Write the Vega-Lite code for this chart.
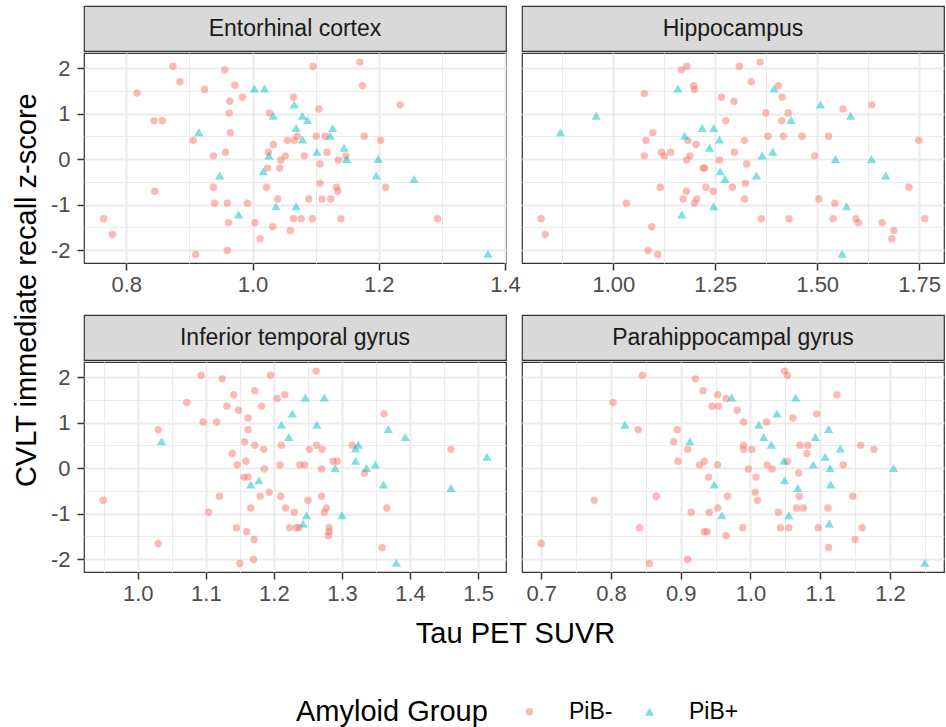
{
  "$schema": "https://vega.github.io/schema/vega-lite/v6.json",
  "background": "white",
  "padding": {"left": 12, "top": 5, "right": 0, "bottom": 0},
  "title": {"text": "CVLT immediate recall z-score", "orient": "left", "anchor": "middle", "fontSize": 29, "fontWeight": "normal", "color": "black", "font": "Liberation Sans", "offset": 8, "dx": 76},
  "config": {
    "font": "Liberation Sans",
    "view": {"stroke": null},
    "axis": {"labelFont": "Liberation Sans", "labelFontSize": 22, "labelColor": "#4D4D4D", "tickColor": "#333333", "tickSize": 7, "tickWidth": 1.5, "domain": false, "gridColor": "#EBEBEB", "gridWidth": 2, "labelFlush": false, "labelOverlap": false, "titleFont": "Liberation Sans", "titleFontSize": 29, "titleFontWeight": "normal", "titleColor": "black"},
    "axisX": {"labelPadding": 4},
    "axisY": {"labelPadding": 7},
    "legend": {"orient": "none", "legendX": 212, "legendY": 694, "direction": "horizontal", "titleOrient": "left", "titleLimit": 600, "titleFontSize": 29, "titleFontWeight": "normal", "titleColor": "black", "titleFont": "Liberation Sans", "labelFont": "Liberation Sans", "labelFontSize": 23, "labelColor": "black", "symbolSize": 55, "symbolOpacity": 0.5, "symbolStrokeWidth": 0, "labelOffset": 28, "columnPadding": 25, "titlePadding": 30}
  },
  "datasets": {
    "pts": [
      {"r":"Entorhinal cortex","x":0.874,"y":2.04,"g":"PiB-"},{"r":"Entorhinal cortex","x":0.885,"y":1.70,"g":"PiB-"},{"r":"Entorhinal cortex","x":0.817,"y":1.45,"g":"PiB-"},{"r":"Entorhinal cortex","x":0.956,"y":1.96,"g":"PiB-"},{"r":"Entorhinal cortex","x":0.924,"y":1.53,"g":"PiB-"},{"r":"Entorhinal cortex","x":0.972,"y":1.62,"g":"PiB-"},{"r":"Entorhinal cortex","x":0.964,"y":1.27,"g":"PiB-"},{"r":"Entorhinal cortex","x":0.984,"y":1.36,"g":"PiB-"},{"r":"Entorhinal cortex","x":0.963,"y":1.01,"g":"PiB-"},{"r":"Entorhinal cortex","x":0.965,"y":0.58,"g":"PiB-"},
      {"r":"Entorhinal cortex","x":0.844,"y":0.84,"g":"PiB-"},{"r":"Entorhinal cortex","x":0.857,"y":0.84,"g":"PiB-"},{"r":"Entorhinal cortex","x":0.906,"y":0.41,"g":"PiB-"},{"r":"Entorhinal cortex","x":0.938,"y":0.07,"g":"PiB-"},{"r":"Entorhinal cortex","x":0.957,"y":0.15,"g":"PiB-"},{"r":"Entorhinal cortex","x":0.938,"y":-0.62,"g":"PiB-"},{"r":"Entorhinal cortex","x":0.845,"y":-0.71,"g":"PiB-"},{"r":"Entorhinal cortex","x":0.940,"y":-0.97,"g":"PiB-"},{"r":"Entorhinal cortex","x":0.960,"y":-0.97,"g":"PiB-"},{"r":"Entorhinal cortex","x":0.992,"y":-0.97,"g":"PiB-"},
      {"r":"Entorhinal cortex","x":0.764,"y":-1.31,"g":"PiB-"},{"r":"Entorhinal cortex","x":0.778,"y":-1.66,"g":"PiB-"},{"r":"Entorhinal cortex","x":0.910,"y":-2.10,"g":"PiB-"},{"r":"Entorhinal cortex","x":0.960,"y":-2.01,"g":"PiB-"},{"r":"Entorhinal cortex","x":0.962,"y":-1.40,"g":"PiB-"},{"r":"Entorhinal cortex","x":1.004,"y":-1.40,"g":"PiB-"},{"r":"Entorhinal cortex","x":1.012,"y":-1.75,"g":"PiB-"},{"r":"Entorhinal cortex","x":1.032,"y":-1.49,"g":"PiB-"},{"r":"Entorhinal cortex","x":1.060,"y":-1.57,"g":"PiB-"},{"r":"Entorhinal cortex","x":1.065,"y":-1.31,"g":"PiB-"},
      {"r":"Entorhinal cortex","x":1.077,"y":-1.31,"g":"PiB-"},{"r":"Entorhinal cortex","x":1.095,"y":-1.31,"g":"PiB-"},{"r":"Entorhinal cortex","x":1.140,"y":-1.31,"g":"PiB-"},{"r":"Entorhinal cortex","x":1.293,"y":-1.31,"g":"PiB-"},{"r":"Entorhinal cortex","x":1.040,"y":-0.88,"g":"PiB-"},{"r":"Entorhinal cortex","x":1.089,"y":-0.88,"g":"PiB-"},{"r":"Entorhinal cortex","x":1.110,"y":-0.88,"g":"PiB-"},{"r":"Entorhinal cortex","x":1.124,"y":-0.88,"g":"PiB-"},{"r":"Entorhinal cortex","x":1.022,"y":-0.62,"g":"PiB-"},{"r":"Entorhinal cortex","x":1.107,"y":-0.53,"g":"PiB-"},
      {"r":"Entorhinal cortex","x":1.133,"y":-0.62,"g":"PiB-"},{"r":"Entorhinal cortex","x":1.135,"y":-0.71,"g":"PiB-"},{"r":"Entorhinal cortex","x":1.211,"y":-0.62,"g":"PiB-"},{"r":"Entorhinal cortex","x":1.043,"y":-0.20,"g":"PiB-"},{"r":"Entorhinal cortex","x":1.024,"y":-0.20,"g":"PiB-"},{"r":"Entorhinal cortex","x":1.045,"y":-0.02,"g":"PiB-"},{"r":"Entorhinal cortex","x":1.052,"y":0.07,"g":"PiB-"},{"r":"Entorhinal cortex","x":1.082,"y":0.07,"g":"PiB-"},{"r":"Entorhinal cortex","x":1.107,"y":-0.11,"g":"PiB-"},{"r":"Entorhinal cortex","x":1.136,"y":-0.02,"g":"PiB-"},
      {"r":"Entorhinal cortex","x":1.148,"y":0.07,"g":"PiB-"},{"r":"Entorhinal cortex","x":1.118,"y":0.15,"g":"PiB-"},{"r":"Entorhinal cortex","x":1.025,"y":0.15,"g":"PiB-"},{"r":"Entorhinal cortex","x":1.033,"y":0.32,"g":"PiB-"},{"r":"Entorhinal cortex","x":1.055,"y":0.41,"g":"PiB-"},{"r":"Entorhinal cortex","x":1.066,"y":0.41,"g":"PiB-"},{"r":"Entorhinal cortex","x":1.071,"y":0.50,"g":"PiB-"},{"r":"Entorhinal cortex","x":1.101,"y":0.50,"g":"PiB-"},{"r":"Entorhinal cortex","x":1.115,"y":0.50,"g":"PiB-"},{"r":"Entorhinal cortex","x":1.177,"y":0.50,"g":"PiB-"},
      {"r":"Entorhinal cortex","x":1.203,"y":0.41,"g":"PiB-"},{"r":"Entorhinal cortex","x":1.027,"y":1.01,"g":"PiB-"},{"r":"Entorhinal cortex","x":1.105,"y":1.10,"g":"PiB-"},{"r":"Entorhinal cortex","x":1.065,"y":1.36,"g":"PiB-"},{"r":"Entorhinal cortex","x":1.096,"y":2.04,"g":"PiB-"},{"r":"Entorhinal cortex","x":1.170,"y":2.13,"g":"PiB-"},{"r":"Entorhinal cortex","x":1.174,"y":1.61,"g":"PiB-"},{"r":"Entorhinal cortex","x":1.234,"y":1.19,"g":"PiB-"},
      {"r":"Entorhinal cortex","x":1.003,"y":1.55,"g":"PiB+"},{"r":"Entorhinal cortex","x":1.019,"y":1.55,"g":"PiB+"},{"r":"Entorhinal cortex","x":1.066,"y":1.20,"g":"PiB+"},{"r":"Entorhinal cortex","x":1.033,"y":0.95,"g":"PiB+"},{"r":"Entorhinal cortex","x":1.079,"y":0.95,"g":"PiB+"},{"r":"Entorhinal cortex","x":1.087,"y":0.86,"g":"PiB+"},{"r":"Entorhinal cortex","x":1.069,"y":0.68,"g":"PiB+"},{"r":"Entorhinal cortex","x":1.127,"y":0.68,"g":"PiB+"},{"r":"Entorhinal cortex","x":1.123,"y":0.51,"g":"PiB+"},{"r":"Entorhinal cortex","x":1.079,"y":0.43,"g":"PiB+"},
      {"r":"Entorhinal cortex","x":0.915,"y":0.59,"g":"PiB+"},{"r":"Entorhinal cortex","x":1.102,"y":0.16,"g":"PiB+"},{"r":"Entorhinal cortex","x":1.026,"y":0.08,"g":"PiB+"},{"r":"Entorhinal cortex","x":1.145,"y":0.25,"g":"PiB+"},{"r":"Entorhinal cortex","x":1.149,"y":0.0,"g":"PiB+"},{"r":"Entorhinal cortex","x":1.199,"y":0.0,"g":"PiB+"},{"r":"Entorhinal cortex","x":1.017,"y":-0.27,"g":"PiB+"},{"r":"Entorhinal cortex","x":0.948,"y":-0.36,"g":"PiB+"},{"r":"Entorhinal cortex","x":1.196,"y":-0.36,"g":"PiB+"},{"r":"Entorhinal cortex","x":1.256,"y":-0.44,"g":"PiB+"},
      {"r":"Entorhinal cortex","x":1.037,"y":-1.04,"g":"PiB+"},{"r":"Entorhinal cortex","x":1.069,"y":-1.04,"g":"PiB+"},{"r":"Entorhinal cortex","x":0.978,"y":-1.22,"g":"PiB+"},{"r":"Entorhinal cortex","x":1.373,"y":-2.08,"g":"PiB+"},

      {"r":"Hippocampus","x":1.360,"y":2.13,"g":"PiB-"},{"r":"Hippocampus","x":1.309,"y":2.04,"g":"PiB-"},{"r":"Hippocampus","x":1.180,"y":2.04,"g":"PiB-"},{"r":"Hippocampus","x":1.167,"y":1.96,"g":"PiB-"},{"r":"Hippocampus","x":1.338,"y":1.70,"g":"PiB-"},{"r":"Hippocampus","x":1.197,"y":1.61,"g":"PiB-"},{"r":"Hippocampus","x":1.199,"y":1.53,"g":"PiB-"},{"r":"Hippocampus","x":1.405,"y":1.61,"g":"PiB-"},{"r":"Hippocampus","x":1.076,"y":1.44,"g":"PiB-"},{"r":"Hippocampus","x":1.265,"y":1.36,"g":"PiB-"},
      {"r":"Hippocampus","x":1.296,"y":1.27,"g":"PiB-"},{"r":"Hippocampus","x":1.414,"y":1.36,"g":"PiB-"},{"r":"Hippocampus","x":1.563,"y":1.10,"g":"PiB-"},{"r":"Hippocampus","x":1.634,"y":1.19,"g":"PiB-"},{"r":"Hippocampus","x":1.374,"y":1.01,"g":"PiB-"},{"r":"Hippocampus","x":1.429,"y":1.01,"g":"PiB-"},{"r":"Hippocampus","x":1.413,"y":0.84,"g":"PiB-"},{"r":"Hippocampus","x":1.276,"y":0.84,"g":"PiB-"},{"r":"Hippocampus","x":1.097,"y":0.58,"g":"PiB-"},{"r":"Hippocampus","x":1.080,"y":0.41,"g":"PiB-"},
      {"r":"Hippocampus","x":1.379,"y":0.50,"g":"PiB-"},{"r":"Hippocampus","x":1.417,"y":0.50,"g":"PiB-"},{"r":"Hippocampus","x":1.463,"y":0.50,"g":"PiB-"},{"r":"Hippocampus","x":1.528,"y":0.50,"g":"PiB-"},{"r":"Hippocampus","x":1.322,"y":0.41,"g":"PiB-"},{"r":"Hippocampus","x":1.183,"y":0.41,"g":"PiB-"},{"r":"Hippocampus","x":1.203,"y":0.32,"g":"PiB-"},{"r":"Hippocampus","x":1.749,"y":0.41,"g":"PiB-"},{"r":"Hippocampus","x":1.076,"y":0.07,"g":"PiB-"},{"r":"Hippocampus","x":1.118,"y":0.15,"g":"PiB-"},
      {"r":"Hippocampus","x":1.125,"y":0.07,"g":"PiB-"},{"r":"Hippocampus","x":1.141,"y":0.15,"g":"PiB-"},{"r":"Hippocampus","x":1.188,"y":0.07,"g":"PiB-"},{"r":"Hippocampus","x":1.180,"y":-0.02,"g":"PiB-"},{"r":"Hippocampus","x":1.297,"y":0.15,"g":"PiB-"},{"r":"Hippocampus","x":1.260,"y":-0.02,"g":"PiB-"},{"r":"Hippocampus","x":1.327,"y":-0.11,"g":"PiB-"},{"r":"Hippocampus","x":1.494,"y":0.07,"g":"PiB-"},{"r":"Hippocampus","x":1.220,"y":-0.20,"g":"PiB-"},{"r":"Hippocampus","x":1.224,"y":-0.20,"g":"PiB-"},
      {"r":"Hippocampus","x":1.324,"y":-0.53,"g":"PiB-"},{"r":"Hippocampus","x":1.115,"y":-0.62,"g":"PiB-"},{"r":"Hippocampus","x":1.227,"y":-0.62,"g":"PiB-"},{"r":"Hippocampus","x":1.292,"y":-0.62,"g":"PiB-"},{"r":"Hippocampus","x":1.725,"y":-0.62,"g":"PiB-"},{"r":"Hippocampus","x":1.179,"y":-0.71,"g":"PiB-"},{"r":"Hippocampus","x":1.245,"y":-0.71,"g":"PiB-"},{"r":"Hippocampus","x":1.171,"y":-0.88,"g":"PiB-"},{"r":"Hippocampus","x":1.205,"y":-0.88,"g":"PiB-"},{"r":"Hippocampus","x":1.199,"y":-0.97,"g":"PiB-"},
      {"r":"Hippocampus","x":1.322,"y":-0.88,"g":"PiB-"},{"r":"Hippocampus","x":1.032,"y":-0.97,"g":"PiB-"},{"r":"Hippocampus","x":1.504,"y":-0.88,"g":"PiB-"},{"r":"Hippocampus","x":1.543,"y":-0.97,"g":"PiB-"},{"r":"Hippocampus","x":0.823,"y":-1.31,"g":"PiB-"},{"r":"Hippocampus","x":0.833,"y":-1.66,"g":"PiB-"},{"r":"Hippocampus","x":1.094,"y":-1.49,"g":"PiB-"},{"r":"Hippocampus","x":1.085,"y":-2.01,"g":"PiB-"},{"r":"Hippocampus","x":1.109,"y":-2.10,"g":"PiB-"},{"r":"Hippocampus","x":1.363,"y":-1.31,"g":"PiB-"},
      {"r":"Hippocampus","x":1.431,"y":-1.31,"g":"PiB-"},{"r":"Hippocampus","x":1.539,"y":-1.31,"g":"PiB-"},{"r":"Hippocampus","x":1.595,"y":-1.31,"g":"PiB-"},{"r":"Hippocampus","x":1.601,"y":-1.40,"g":"PiB-"},{"r":"Hippocampus","x":1.659,"y":-1.40,"g":"PiB-"},{"r":"Hippocampus","x":1.688,"y":-1.57,"g":"PiB-"},{"r":"Hippocampus","x":1.683,"y":-1.75,"g":"PiB-"},{"r":"Hippocampus","x":1.764,"y":-1.31,"g":"PiB-"},
      {"r":"Hippocampus","x":1.158,"y":1.55,"g":"PiB+"},{"r":"Hippocampus","x":1.394,"y":1.55,"g":"PiB+"},{"r":"Hippocampus","x":1.508,"y":1.20,"g":"PiB+"},{"r":"Hippocampus","x":1.582,"y":0.95,"g":"PiB+"},{"r":"Hippocampus","x":0.958,"y":0.95,"g":"PiB+"},{"r":"Hippocampus","x":0.870,"y":0.59,"g":"PiB+"},{"r":"Hippocampus","x":1.218,"y":0.68,"g":"PiB+"},{"r":"Hippocampus","x":1.246,"y":0.68,"g":"PiB+"},{"r":"Hippocampus","x":1.436,"y":0.86,"g":"PiB+"},{"r":"Hippocampus","x":1.175,"y":0.51,"g":"PiB+"},
      {"r":"Hippocampus","x":1.260,"y":0.43,"g":"PiB+"},{"r":"Hippocampus","x":1.236,"y":0.25,"g":"PiB+"},{"r":"Hippocampus","x":1.391,"y":0.16,"g":"PiB+"},{"r":"Hippocampus","x":1.365,"y":0.08,"g":"PiB+"},{"r":"Hippocampus","x":1.545,"y":0.0,"g":"PiB+"},{"r":"Hippocampus","x":1.633,"y":0.0,"g":"PiB+"},{"r":"Hippocampus","x":1.262,"y":-0.27,"g":"PiB+"},{"r":"Hippocampus","x":1.274,"y":-0.44,"g":"PiB+"},{"r":"Hippocampus","x":1.351,"y":-0.36,"g":"PiB+"},{"r":"Hippocampus","x":1.668,"y":-0.36,"g":"PiB+"},
      {"r":"Hippocampus","x":1.246,"y":-1.04,"g":"PiB+"},{"r":"Hippocampus","x":1.572,"y":-1.04,"g":"PiB+"},{"r":"Hippocampus","x":1.168,"y":-1.22,"g":"PiB+"},{"r":"Hippocampus","x":1.561,"y":-2.08,"g":"PiB+"},

      {"r":"Inferior temporal gyrus","x":1.262,"y":2.13,"g":"PiB-"},{"r":"Inferior temporal gyrus","x":1.093,"y":2.04,"g":"PiB-"},{"r":"Inferior temporal gyrus","x":1.195,"y":2.04,"g":"PiB-"},{"r":"Inferior temporal gyrus","x":1.124,"y":1.96,"g":"PiB-"},{"r":"Inferior temporal gyrus","x":1.172,"y":1.70,"g":"PiB-"},{"r":"Inferior temporal gyrus","x":1.141,"y":1.61,"g":"PiB-"},{"r":"Inferior temporal gyrus","x":1.216,"y":1.61,"g":"PiB-"},{"r":"Inferior temporal gyrus","x":1.205,"y":1.53,"g":"PiB-"},{"r":"Inferior temporal gyrus","x":1.072,"y":1.44,"g":"PiB-"},{"r":"Inferior temporal gyrus","x":1.131,"y":1.36,"g":"PiB-"},
      {"r":"Inferior temporal gyrus","x":1.182,"y":1.36,"g":"PiB-"},{"r":"Inferior temporal gyrus","x":1.148,"y":1.27,"g":"PiB-"},{"r":"Inferior temporal gyrus","x":1.362,"y":1.19,"g":"PiB-"},{"r":"Inferior temporal gyrus","x":1.162,"y":1.10,"g":"PiB-"},{"r":"Inferior temporal gyrus","x":1.096,"y":1.01,"g":"PiB-"},{"r":"Inferior temporal gyrus","x":1.116,"y":1.01,"g":"PiB-"},{"r":"Inferior temporal gyrus","x":1.030,"y":0.84,"g":"PiB-"},{"r":"Inferior temporal gyrus","x":1.162,"y":0.84,"g":"PiB-"},{"r":"Inferior temporal gyrus","x":1.157,"y":0.58,"g":"PiB-"},{"r":"Inferior temporal gyrus","x":1.172,"y":0.50,"g":"PiB-"},
      {"r":"Inferior temporal gyrus","x":1.211,"y":0.50,"g":"PiB-"},{"r":"Inferior temporal gyrus","x":1.263,"y":0.50,"g":"PiB-"},{"r":"Inferior temporal gyrus","x":1.315,"y":0.50,"g":"PiB-"},{"r":"Inferior temporal gyrus","x":1.185,"y":0.41,"g":"PiB-"},{"r":"Inferior temporal gyrus","x":1.252,"y":0.41,"g":"PiB-"},{"r":"Inferior temporal gyrus","x":1.271,"y":0.41,"g":"PiB-"},{"r":"Inferior temporal gyrus","x":1.460,"y":0.41,"g":"PiB-"},{"r":"Inferior temporal gyrus","x":1.139,"y":0.32,"g":"PiB-"},{"r":"Inferior temporal gyrus","x":1.159,"y":0.15,"g":"PiB-"},{"r":"Inferior temporal gyrus","x":1.287,"y":0.15,"g":"PiB-"},
      {"r":"Inferior temporal gyrus","x":1.293,"y":0.15,"g":"PiB-"},{"r":"Inferior temporal gyrus","x":1.146,"y":0.07,"g":"PiB-"},{"r":"Inferior temporal gyrus","x":1.209,"y":0.07,"g":"PiB-"},{"r":"Inferior temporal gyrus","x":1.238,"y":0.07,"g":"PiB-"},{"r":"Inferior temporal gyrus","x":1.245,"y":0.07,"g":"PiB-"},{"r":"Inferior temporal gyrus","x":1.186,"y":-0.02,"g":"PiB-"},{"r":"Inferior temporal gyrus","x":1.270,"y":-0.02,"g":"PiB-"},{"r":"Inferior temporal gyrus","x":1.333,"y":-0.11,"g":"PiB-"},{"r":"Inferior temporal gyrus","x":1.156,"y":-0.20,"g":"PiB-"},{"r":"Inferior temporal gyrus","x":1.162,"y":-0.20,"g":"PiB-"},
      {"r":"Inferior temporal gyrus","x":0.949,"y":-0.71,"g":"PiB-"},{"r":"Inferior temporal gyrus","x":1.120,"y":-0.62,"g":"PiB-"},{"r":"Inferior temporal gyrus","x":1.193,"y":-0.53,"g":"PiB-"},{"r":"Inferior temporal gyrus","x":1.180,"y":-0.62,"g":"PiB-"},{"r":"Inferior temporal gyrus","x":1.210,"y":-0.62,"g":"PiB-"},{"r":"Inferior temporal gyrus","x":1.270,"y":-0.62,"g":"PiB-"},{"r":"Inferior temporal gyrus","x":1.250,"y":-0.71,"g":"PiB-"},{"r":"Inferior temporal gyrus","x":1.166,"y":-0.88,"g":"PiB-"},{"r":"Inferior temporal gyrus","x":1.217,"y":-0.88,"g":"PiB-"},{"r":"Inferior temporal gyrus","x":1.277,"y":-0.88,"g":"PiB-"},
      {"r":"Inferior temporal gyrus","x":1.366,"y":-0.88,"g":"PiB-"},{"r":"Inferior temporal gyrus","x":1.104,"y":-0.97,"g":"PiB-"},{"r":"Inferior temporal gyrus","x":1.230,"y":-0.97,"g":"PiB-"},{"r":"Inferior temporal gyrus","x":1.274,"y":-0.97,"g":"PiB-"},{"r":"Inferior temporal gyrus","x":1.145,"y":-1.31,"g":"PiB-"},{"r":"Inferior temporal gyrus","x":1.223,"y":-1.31,"g":"PiB-"},{"r":"Inferior temporal gyrus","x":1.233,"y":-1.31,"g":"PiB-"},{"r":"Inferior temporal gyrus","x":1.237,"y":-1.31,"g":"PiB-"},{"r":"Inferior temporal gyrus","x":1.281,"y":-1.31,"g":"PiB-"},{"r":"Inferior temporal gyrus","x":1.281,"y":-1.40,"g":"PiB-"},
      {"r":"Inferior temporal gyrus","x":1.280,"y":-1.49,"g":"PiB-"},{"r":"Inferior temporal gyrus","x":1.160,"y":-1.40,"g":"PiB-"},{"r":"Inferior temporal gyrus","x":1.171,"y":-1.57,"g":"PiB-"},{"r":"Inferior temporal gyrus","x":1.030,"y":-1.66,"g":"PiB-"},{"r":"Inferior temporal gyrus","x":1.359,"y":-1.75,"g":"PiB-"},{"r":"Inferior temporal gyrus","x":1.170,"y":-2.01,"g":"PiB-"},{"r":"Inferior temporal gyrus","x":1.150,"y":-2.10,"g":"PiB-"},
      {"r":"Inferior temporal gyrus","x":1.246,"y":1.55,"g":"PiB+"},{"r":"Inferior temporal gyrus","x":1.274,"y":1.55,"g":"PiB+"},{"r":"Inferior temporal gyrus","x":1.227,"y":1.20,"g":"PiB+"},{"r":"Inferior temporal gyrus","x":1.211,"y":0.95,"g":"PiB+"},{"r":"Inferior temporal gyrus","x":1.263,"y":0.95,"g":"PiB+"},{"r":"Inferior temporal gyrus","x":1.368,"y":0.86,"g":"PiB+"},{"r":"Inferior temporal gyrus","x":1.222,"y":0.68,"g":"PiB+"},{"r":"Inferior temporal gyrus","x":1.393,"y":0.68,"g":"PiB+"},{"r":"Inferior temporal gyrus","x":1.035,"y":0.59,"g":"PiB+"},{"r":"Inferior temporal gyrus","x":1.324,"y":0.51,"g":"PiB+"},
      {"r":"Inferior temporal gyrus","x":1.320,"y":0.43,"g":"PiB+"},{"r":"Inferior temporal gyrus","x":1.513,"y":0.25,"g":"PiB+"},{"r":"Inferior temporal gyrus","x":1.320,"y":0.16,"g":"PiB+"},{"r":"Inferior temporal gyrus","x":1.349,"y":0.08,"g":"PiB+"},{"r":"Inferior temporal gyrus","x":1.290,"y":0.0,"g":"PiB+"},{"r":"Inferior temporal gyrus","x":1.336,"y":0.0,"g":"PiB+"},{"r":"Inferior temporal gyrus","x":1.178,"y":-0.27,"g":"PiB+"},{"r":"Inferior temporal gyrus","x":1.166,"y":-0.36,"g":"PiB+"},{"r":"Inferior temporal gyrus","x":1.361,"y":-0.36,"g":"PiB+"},{"r":"Inferior temporal gyrus","x":1.460,"y":-0.44,"g":"PiB+"},
      {"r":"Inferior temporal gyrus","x":1.248,"y":-1.04,"g":"PiB+"},{"r":"Inferior temporal gyrus","x":1.300,"y":-1.04,"g":"PiB+"},{"r":"Inferior temporal gyrus","x":1.243,"y":-1.22,"g":"PiB+"},{"r":"Inferior temporal gyrus","x":1.380,"y":-2.08,"g":"PiB+"},

      {"r":"Parahippocampal gyrus","x":1.049,"y":2.13,"g":"PiB-"},{"r":"Parahippocampal gyrus","x":1.053,"y":2.04,"g":"PiB-"},{"r":"Parahippocampal gyrus","x":0.845,"y":2.04,"g":"PiB-"},{"r":"Parahippocampal gyrus","x":0.921,"y":1.96,"g":"PiB-"},{"r":"Parahippocampal gyrus","x":0.932,"y":1.70,"g":"PiB-"},{"r":"Parahippocampal gyrus","x":0.953,"y":1.61,"g":"PiB-"},{"r":"Parahippocampal gyrus","x":0.965,"y":1.53,"g":"PiB-"},{"r":"Parahippocampal gyrus","x":1.124,"y":1.61,"g":"PiB-"},{"r":"Parahippocampal gyrus","x":0.803,"y":1.44,"g":"PiB-"},{"r":"Parahippocampal gyrus","x":0.945,"y":1.36,"g":"PiB-"},
      {"r":"Parahippocampal gyrus","x":0.954,"y":1.36,"g":"PiB-"},{"r":"Parahippocampal gyrus","x":0.981,"y":1.27,"g":"PiB-"},{"r":"Parahippocampal gyrus","x":1.095,"y":1.19,"g":"PiB-"},{"r":"Parahippocampal gyrus","x":1.061,"y":1.10,"g":"PiB-"},{"r":"Parahippocampal gyrus","x":0.990,"y":1.01,"g":"PiB-"},{"r":"Parahippocampal gyrus","x":1.023,"y":1.01,"g":"PiB-"},{"r":"Parahippocampal gyrus","x":0.839,"y":0.84,"g":"PiB-"},{"r":"Parahippocampal gyrus","x":0.895,"y":0.84,"g":"PiB-"},{"r":"Parahippocampal gyrus","x":0.890,"y":0.58,"g":"PiB-"},{"r":"Parahippocampal gyrus","x":0.990,"y":0.50,"g":"PiB-"},
      {"r":"Parahippocampal gyrus","x":1.071,"y":0.50,"g":"PiB-"},{"r":"Parahippocampal gyrus","x":1.082,"y":0.50,"g":"PiB-"},{"r":"Parahippocampal gyrus","x":1.158,"y":0.50,"g":"PiB-"},{"r":"Parahippocampal gyrus","x":0.910,"y":0.41,"g":"PiB-"},{"r":"Parahippocampal gyrus","x":0.990,"y":0.41,"g":"PiB-"},{"r":"Parahippocampal gyrus","x":1.002,"y":0.41,"g":"PiB-"},{"r":"Parahippocampal gyrus","x":1.177,"y":0.41,"g":"PiB-"},{"r":"Parahippocampal gyrus","x":1.081,"y":0.32,"g":"PiB-"},{"r":"Parahippocampal gyrus","x":1.053,"y":0.15,"g":"PiB-"},{"r":"Parahippocampal gyrus","x":0.896,"y":0.15,"g":"PiB-"},
      {"r":"Parahippocampal gyrus","x":0.934,"y":0.15,"g":"PiB-"},{"r":"Parahippocampal gyrus","x":0.927,"y":0.07,"g":"PiB-"},{"r":"Parahippocampal gyrus","x":0.953,"y":0.07,"g":"PiB-"},{"r":"Parahippocampal gyrus","x":1.024,"y":0.07,"g":"PiB-"},{"r":"Parahippocampal gyrus","x":1.133,"y":0.07,"g":"PiB-"},{"r":"Parahippocampal gyrus","x":0.997,"y":-0.02,"g":"PiB-"},{"r":"Parahippocampal gyrus","x":1.031,"y":-0.02,"g":"PiB-"},{"r":"Parahippocampal gyrus","x":1.069,"y":-0.11,"g":"PiB-"},{"r":"Parahippocampal gyrus","x":0.940,"y":-0.20,"g":"PiB-"},{"r":"Parahippocampal gyrus","x":1.008,"y":-0.20,"g":"PiB-"},
      {"r":"Parahippocampal gyrus","x":0.776,"y":-0.71,"g":"PiB-"},{"r":"Parahippocampal gyrus","x":0.865,"y":-0.62,"g":"PiB-"},{"r":"Parahippocampal gyrus","x":1.007,"y":-0.53,"g":"PiB-"},{"r":"Parahippocampal gyrus","x":0.967,"y":-0.62,"g":"PiB-"},{"r":"Parahippocampal gyrus","x":1.010,"y":-0.71,"g":"PiB-"},{"r":"Parahippocampal gyrus","x":1.070,"y":-0.62,"g":"PiB-"},{"r":"Parahippocampal gyrus","x":1.147,"y":-0.62,"g":"PiB-"},{"r":"Parahippocampal gyrus","x":0.953,"y":-0.88,"g":"PiB-"},{"r":"Parahippocampal gyrus","x":1.066,"y":-0.88,"g":"PiB-"},{"r":"Parahippocampal gyrus","x":1.076,"y":-0.88,"g":"PiB-"},
      {"r":"Parahippocampal gyrus","x":1.111,"y":-0.88,"g":"PiB-"},{"r":"Parahippocampal gyrus","x":0.915,"y":-0.97,"g":"PiB-"},{"r":"Parahippocampal gyrus","x":0.941,"y":-0.97,"g":"PiB-"},{"r":"Parahippocampal gyrus","x":1.040,"y":-0.97,"g":"PiB-"},{"r":"Parahippocampal gyrus","x":0.841,"y":-1.31,"g":"PiB-"},{"r":"Parahippocampal gyrus","x":0.989,"y":-1.31,"g":"PiB-"},{"r":"Parahippocampal gyrus","x":1.043,"y":-1.31,"g":"PiB-"},{"r":"Parahippocampal gyrus","x":1.055,"y":-1.31,"g":"PiB-"},{"r":"Parahippocampal gyrus","x":1.097,"y":-1.31,"g":"PiB-"},{"r":"Parahippocampal gyrus","x":1.160,"y":-1.31,"g":"PiB-"},
      {"r":"Parahippocampal gyrus","x":0.934,"y":-1.40,"g":"PiB-"},{"r":"Parahippocampal gyrus","x":0.938,"y":-1.40,"g":"PiB-"},{"r":"Parahippocampal gyrus","x":0.965,"y":-1.49,"g":"PiB-"},{"r":"Parahippocampal gyrus","x":1.150,"y":-1.57,"g":"PiB-"},{"r":"Parahippocampal gyrus","x":0.700,"y":-1.66,"g":"PiB-"},{"r":"Parahippocampal gyrus","x":1.112,"y":-1.75,"g":"PiB-"},{"r":"Parahippocampal gyrus","x":0.910,"y":-2.01,"g":"PiB-"},{"r":"Parahippocampal gyrus","x":0.855,"y":-2.10,"g":"PiB-"},
      {"r":"Parahippocampal gyrus","x":0.973,"y":1.55,"g":"PiB+"},{"r":"Parahippocampal gyrus","x":1.065,"y":1.55,"g":"PiB+"},{"r":"Parahippocampal gyrus","x":1.038,"y":1.20,"g":"PiB+"},{"r":"Parahippocampal gyrus","x":1.012,"y":0.95,"g":"PiB+"},{"r":"Parahippocampal gyrus","x":0.820,"y":0.95,"g":"PiB+"},{"r":"Parahippocampal gyrus","x":1.112,"y":0.86,"g":"PiB+"},{"r":"Parahippocampal gyrus","x":1.019,"y":0.68,"g":"PiB+"},{"r":"Parahippocampal gyrus","x":1.093,"y":0.68,"g":"PiB+"},{"r":"Parahippocampal gyrus","x":0.913,"y":0.59,"g":"PiB+"},{"r":"Parahippocampal gyrus","x":1.030,"y":0.51,"g":"PiB+"},
      {"r":"Parahippocampal gyrus","x":1.129,"y":0.43,"g":"PiB+"},{"r":"Parahippocampal gyrus","x":1.107,"y":0.25,"g":"PiB+"},{"r":"Parahippocampal gyrus","x":1.048,"y":0.16,"g":"PiB+"},{"r":"Parahippocampal gyrus","x":1.090,"y":0.08,"g":"PiB+"},{"r":"Parahippocampal gyrus","x":1.114,"y":0.0,"g":"PiB+"},{"r":"Parahippocampal gyrus","x":1.205,"y":0.0,"g":"PiB+"},{"r":"Parahippocampal gyrus","x":1.049,"y":-0.27,"g":"PiB+"},{"r":"Parahippocampal gyrus","x":0.948,"y":-0.36,"g":"PiB+"},{"r":"Parahippocampal gyrus","x":1.115,"y":-0.36,"g":"PiB+"},{"r":"Parahippocampal gyrus","x":1.068,"y":-0.44,"g":"PiB+"},
      {"r":"Parahippocampal gyrus","x":0.959,"y":-1.04,"g":"PiB+"},{"r":"Parahippocampal gyrus","x":1.055,"y":-1.04,"g":"PiB+"},{"r":"Parahippocampal gyrus","x":1.113,"y":-1.22,"g":"PiB+"},{"r":"Parahippocampal gyrus","x":1.250,"y":-2.08,"g":"PiB+"}
    ]
  },
  "spacing": 18,
  "vconcat": [
    {
      "spacing": 0,
      "vconcat": [
        {
          "hconcat": [
            {"width": 422, "height": 45, "view": {"fill": "#D9D9D9", "stroke": "#333333", "strokeWidth": 1.2}, "data": {"values": [{"label": "Entorhinal cortex"}]}, "mark": {"type": "text", "fontSize": 23, "color": "#1A1A1A", "baseline": "middle", "font": "Liberation Sans"}, "encoding": {"text": {"field": "label", "type": "nominal"}}},
            {"width": 422, "height": 45, "view": {"fill": "#D9D9D9", "stroke": "#333333", "strokeWidth": 1.2}, "data": {"values": [{"label": "Hippocampus"}]}, "mark": {"type": "text", "fontSize": 23, "color": "#1A1A1A", "baseline": "middle", "font": "Liberation Sans"}, "encoding": {"text": {"field": "label", "type": "nominal"}}}
          ],
          "spacing": 16, "bounds": "flush"
        },
        {
          "hconcat": [
            {
              "width": 422, "height": 210,
              "data": {"name": "pts"},
              "transform": [{"filter": "datum.r === 'Entorhinal cortex'"}],
              "view": {"stroke": "#333333", "strokeWidth": 1.2},
              "resolve": {"axis": {"x": "independent", "y": "independent"}},
              "layer": [
                {"mark": {"type": "point", "filled": true, "opacity": 0.5, "strokeWidth": 0},
                 "encoding": {
                   "x": {"field": "x", "type": "quantitative", "scale": {"domain": [0.733, 1.4016], "nice": false, "zero": false}, "axis": {"orient": "bottom", "values": [0.8, 1.0, 1.2, 1.4], "format": ".1f", "title": null}},
                   "y": {"field": "y", "type": "quantitative", "scale": {"domain": [-2.285, 2.33], "nice": false, "zero": false}, "axis": {"orient": "left", "values": [-2, -1, 0, 1, 2], "labelExpr": "'' + datum.value", "title": null}},
                   "color": {"field": "g", "type": "nominal", "scale": {"domain": ["PiB-", "PiB+"], "range": ["#F8766D", "#00BFC4"]}, "legend": {"title": "Amyloid Group"}},
                   "shape": {"field": "g", "type": "nominal", "scale": {"domain": ["PiB-", "PiB+"], "range": ["circle", "triangle-up"]}, "legend": {"title": "Amyloid Group"}},
                   "size": {"field": "g", "type": "nominal", "scale": {"domain": ["PiB-", "PiB+"], "range": [55, 85]}, "legend": null}
                 }},
                {"mark": {"type": "point", "opacity": 0},
                 "encoding": {
                   "x": {"field": "x", "type": "quantitative", "axis": {"values": [0.9, 1.1, 1.3], "grid": true, "gridWidth": 1, "labels": false, "ticks": false, "domain": false, "title": null}},
                   "y": {"field": "y", "type": "quantitative", "axis": {"values": [-1.5, -0.5, 0.5, 1.5], "grid": true, "gridWidth": 1, "labels": false, "ticks": false, "domain": false, "title": null}}
                 }}
              ]
            },
            {
              "width": 422, "height": 210,
              "data": {"name": "pts"},
              "transform": [{"filter": "datum.r === 'Hippocampus'"}],
              "view": {"stroke": "#333333", "strokeWidth": 1.2},
              "resolve": {"axis": {"x": "independent", "y": "independent"}},
              "layer": [
                {"mark": {"type": "point", "filled": true, "opacity": 0.5, "strokeWidth": 0},
                 "encoding": {
                   "x": {"field": "x", "type": "quantitative", "scale": {"domain": [0.776, 1.811], "nice": false, "zero": false}, "axis": {"orient": "bottom", "values": [1.0, 1.25, 1.5, 1.75], "format": ".2f", "title": null}},
                   "y": {"field": "y", "type": "quantitative", "scale": {"domain": [-2.285, 2.33], "nice": false, "zero": false}, "axis": {"orient": "left", "values": [-2, -1, 0, 1, 2], "labels": false, "ticks": false, "title": null}},
                   "color": {"field": "g", "type": "nominal", "scale": {"domain": ["PiB-", "PiB+"], "range": ["#F8766D", "#00BFC4"]}, "legend": {"title": "Amyloid Group"}},
                   "shape": {"field": "g", "type": "nominal", "scale": {"domain": ["PiB-", "PiB+"], "range": ["circle", "triangle-up"]}, "legend": {"title": "Amyloid Group"}},
                   "size": {"field": "g", "type": "nominal", "scale": {"domain": ["PiB-", "PiB+"], "range": [55, 85]}, "legend": null}
                 }},
                {"mark": {"type": "point", "opacity": 0},
                 "encoding": {
                   "x": {"field": "x", "type": "quantitative", "axis": {"values": [0.875, 1.125, 1.375, 1.625], "grid": true, "gridWidth": 1, "labels": false, "ticks": false, "domain": false, "title": null}},
                   "y": {"field": "y", "type": "quantitative", "axis": {"values": [-1.5, -0.5, 0.5, 1.5], "grid": true, "gridWidth": 1, "labels": false, "ticks": false, "domain": false, "title": null}}
                 }}
              ]
            }
          ],
          "spacing": 16, "bounds": "flush"
        }
      ]
    },
    {
      "spacing": 0,
      "vconcat": [
        {
          "hconcat": [
            {"width": 422, "height": 45, "view": {"fill": "#D9D9D9", "stroke": "#333333", "strokeWidth": 1.2}, "data": {"values": [{"label": "Inferior temporal gyrus"}]}, "mark": {"type": "text", "fontSize": 23, "color": "#1A1A1A", "baseline": "middle", "font": "Liberation Sans"}, "encoding": {"text": {"field": "label", "type": "nominal"}}},
            {"width": 422, "height": 45, "view": {"fill": "#D9D9D9", "stroke": "#333333", "strokeWidth": 1.2}, "data": {"values": [{"label": "Parahippocampal gyrus"}]}, "mark": {"type": "text", "fontSize": 23, "color": "#1A1A1A", "baseline": "middle", "font": "Liberation Sans"}, "encoding": {"text": {"field": "label", "type": "nominal"}}}
          ],
          "spacing": 16, "bounds": "flush"
        },
        {
          "hconcat": [
            {
              "width": 422, "height": 210,
              "data": {"name": "pts"},
              "transform": [{"filter": "datum.r === 'Inferior temporal gyrus'"}],
              "view": {"stroke": "#333333", "strokeWidth": 1.2},
              "resolve": {"axis": {"x": "independent", "y": "independent"}},
              "layer": [
                {"mark": {"type": "point", "filled": true, "opacity": 0.5, "strokeWidth": 0},
                 "encoding": {
                   "x": {"field": "x", "type": "quantitative", "scale": {"domain": [0.921, 1.541], "nice": false, "zero": false}, "axis": {"orient": "bottom", "values": [1.0, 1.1, 1.2, 1.3, 1.4, 1.5], "format": ".1f", "title": "Tau PET SUVR", "titleX": 431, "titleY": 70, "titleBaseline": "alphabetic", "titleAlign": "center"}},
                   "y": {"field": "y", "type": "quantitative", "scale": {"domain": [-2.285, 2.33], "nice": false, "zero": false}, "axis": {"orient": "left", "values": [-2, -1, 0, 1, 2], "labelExpr": "'' + datum.value", "title": null}},
                   "color": {"field": "g", "type": "nominal", "scale": {"domain": ["PiB-", "PiB+"], "range": ["#F8766D", "#00BFC4"]}, "legend": {"title": "Amyloid Group"}},
                   "shape": {"field": "g", "type": "nominal", "scale": {"domain": ["PiB-", "PiB+"], "range": ["circle", "triangle-up"]}, "legend": {"title": "Amyloid Group"}},
                   "size": {"field": "g", "type": "nominal", "scale": {"domain": ["PiB-", "PiB+"], "range": [55, 85]}, "legend": null}
                 }},
                {"mark": {"type": "point", "opacity": 0},
                 "encoding": {
                   "x": {"field": "x", "type": "quantitative", "axis": {"values": [0.95, 1.05, 1.15, 1.25, 1.35, 1.45], "grid": true, "gridWidth": 1, "labels": false, "ticks": false, "domain": false, "title": null}},
                   "y": {"field": "y", "type": "quantitative", "axis": {"values": [-1.5, -0.5, 0.5, 1.5], "grid": true, "gridWidth": 1, "labels": false, "ticks": false, "domain": false, "title": null}}
                 }}
              ]
            },
            {
              "width": 422, "height": 210,
              "data": {"name": "pts"},
              "transform": [{"filter": "datum.r === 'Parahippocampal gyrus'"}],
              "view": {"stroke": "#333333", "strokeWidth": 1.2},
              "resolve": {"axis": {"x": "independent", "y": "independent"}},
              "layer": [
                {"mark": {"type": "point", "filled": true, "opacity": 0.5, "strokeWidth": 0},
                 "encoding": {
                   "x": {"field": "x", "type": "quantitative", "scale": {"domain": [0.6725, 1.2775], "nice": false, "zero": false}, "axis": {"orient": "bottom", "values": [0.7, 0.8, 0.9, 1.0, 1.1, 1.2], "format": ".1f", "title": null}},
                   "y": {"field": "y", "type": "quantitative", "scale": {"domain": [-2.285, 2.33], "nice": false, "zero": false}, "axis": {"orient": "left", "values": [-2, -1, 0, 1, 2], "labels": false, "ticks": false, "title": null}},
                   "color": {"field": "g", "type": "nominal", "scale": {"domain": ["PiB-", "PiB+"], "range": ["#F8766D", "#00BFC4"]}, "legend": {"title": "Amyloid Group"}},
                   "shape": {"field": "g", "type": "nominal", "scale": {"domain": ["PiB-", "PiB+"], "range": ["circle", "triangle-up"]}, "legend": {"title": "Amyloid Group"}},
                   "size": {"field": "g", "type": "nominal", "scale": {"domain": ["PiB-", "PiB+"], "range": [55, 85]}, "legend": null}
                 }},
                {"mark": {"type": "point", "opacity": 0},
                 "encoding": {
                   "x": {"field": "x", "type": "quantitative", "axis": {"values": [0.75, 0.85, 0.95, 1.05, 1.15, 1.25], "grid": true, "gridWidth": 1, "labels": false, "ticks": false, "domain": false, "title": null}},
                   "y": {"field": "y", "type": "quantitative", "axis": {"values": [-1.5, -0.5, 0.5, 1.5], "grid": true, "gridWidth": 1, "labels": false, "ticks": false, "domain": false, "title": null}}
                 }}
              ]
            }
          ],
          "spacing": 16, "bounds": "flush"
        }
      ]
    }
  ]
}
